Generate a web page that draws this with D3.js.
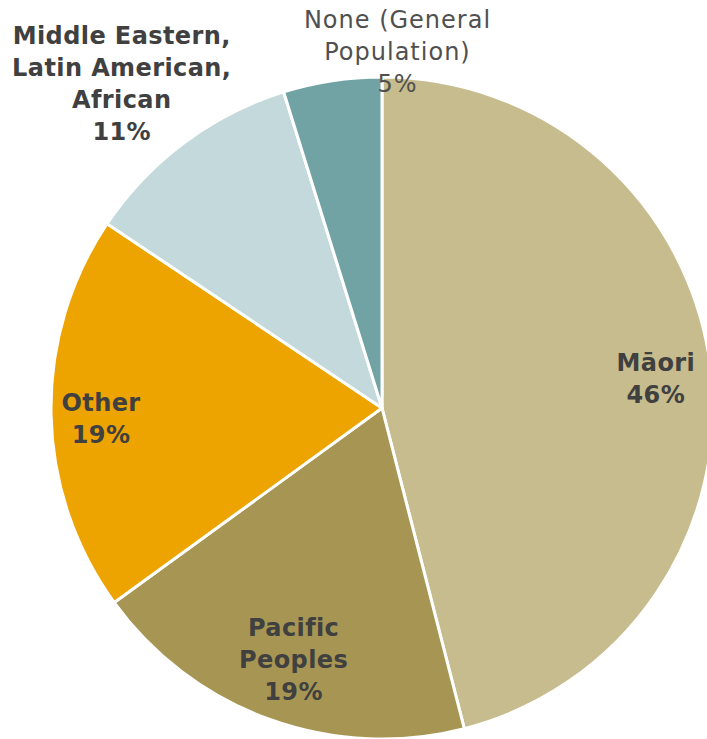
<!DOCTYPE html>
<html>
<head>
<meta charset="utf-8">
<script src="https://cdn.jsdelivr.net/npm/d3@7"></script>
<style>
  html, body { margin: 0; padding: 0; background: #fff; overflow: hidden; }
  text { font-family: "DejaVu Sans", sans-serif; }
</style>
</head>
<body>
<svg id="chart" width="707" height="739"></svg>
<script>
var categories = ['Māori', 'Pacific Peoples', 'Other', 'Middle Eastern, Latin American, African', 'None (General Population)'];
var values = [46, 19, 19.4, 10.8, 4.8];
var pctLabels = ['46%', '19%', '19%', '11%', '5%'];
var labelLines = [['Māori'], ['Pacific', 'Peoples'], ['Other'], ['Middle Eastern,', 'Latin American,', 'African'], ['None (General', 'Population)']];
var colors = ['#C6BC8D', '#A79653', '#EEA400', '#C4D9DB', '#71A3A5'];

var svg = d3.select('#chart');
var cx = 382, cy = 408, radius = 331;

var rows = categories.map(function(c, i) {
    return { name: c, value: values[i], pct: pctLabels[i], lines: labelLines[i], color: colors[i] };
});

var pie = d3.pie().sort(null).value(function(d) { return d.value; });
var arcs = pie(rows);
var arc = d3.arc().innerRadius(0).outerRadius(radius);

var g = svg.append('g').attr('transform', 'translate(' + cx + ',' + cy + ')');

g.selectAll('.slice')
    .data(arcs)
    .enter().append('path')
    .attr('class', 'slice')
    .attr('d', arc)
    .attr('fill', function(d) { return d.data.color; })
    .attr('stroke', '#fff')
    .attr('stroke-width', 3)
    .attr('stroke-linejoin', 'round');

// label anchor: radius along the slice mid angle; the two outside labels get their own angle
var labelRadius = [276, 261, 281, 420, 362];
var labelAngle = [null, null, null, -38.3, 2.45];
var lineH = 32;

g.selectAll('.lbl')
    .data(arcs)
    .enter().append('text')
    .attr('class', 'lbl')
    .attr('text-anchor', 'middle')
    .each(function(d, i) {
        var mid = labelAngle[i] === null ? (d.startAngle + d.endAngle) / 2 : labelAngle[i] * Math.PI / 180;
        var p = d3.pointRadial(mid, labelRadius[i]);
        var lines = d.data.lines.concat([d.data.pct]);
        var plain = i === 4;
        var t = d3.select(this)
            .attr('font-size', 24)
            .attr('font-weight', plain ? 'normal' : 'bold')
            .attr('letter-spacing', plain ? 1 : 0.4)
            .attr('fill', plain ? '#505050' : '#404040');
        var y0 = p[1] - (lines.length - 1) * lineH / 2 + 14;
        lines.forEach(function(s, k) {
            t.append('tspan')
                .attr('x', p[0])
                .attr('y', y0 + k * lineH)
                .text(s);
        });
    });
</script>
</body>
</html>
